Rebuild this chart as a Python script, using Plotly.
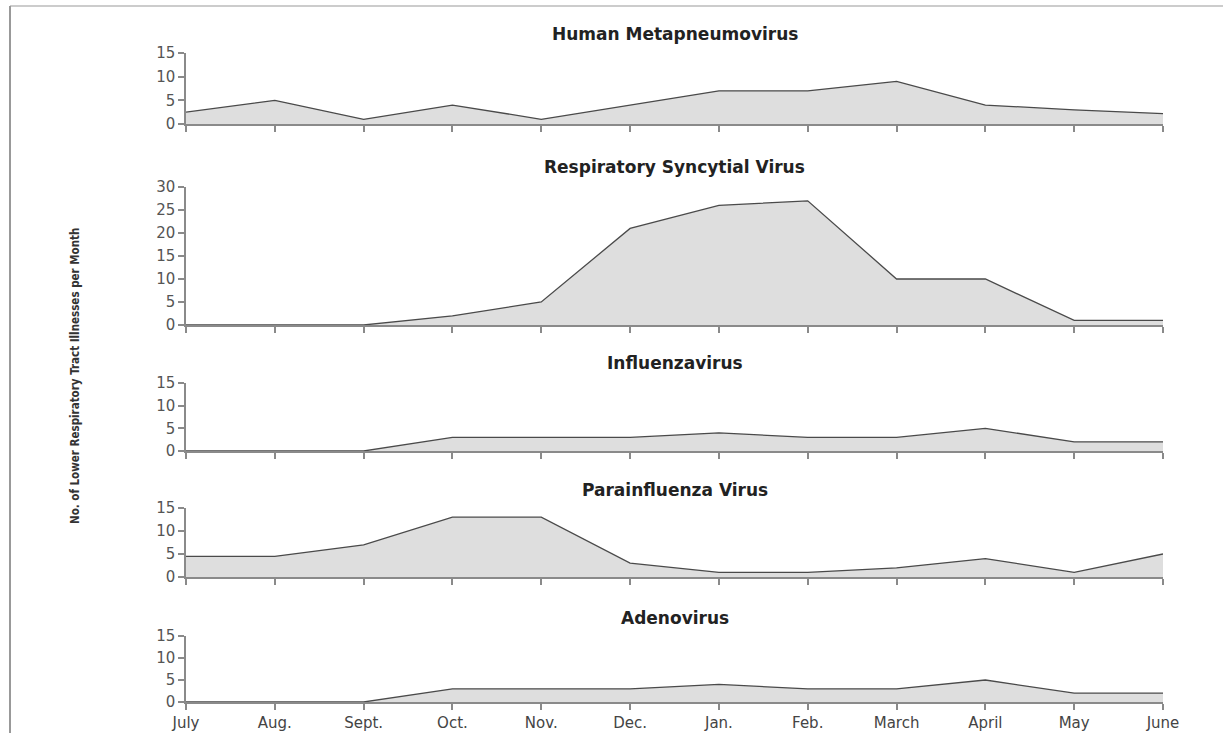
import plotly.graph_objects as go

months = ["July", "Aug.", "Sept.", "Oct.", "Nov.", "Dec.", "Jan.", "Feb.", "March", "April", "May", "June"]

titles = ["Human Metapneumovirus", "Respiratory Syncytial Virus", "Influenzavirus",
          "Parainfluenza Virus", "Adenovirus"]

hmpv = [2.5, 5, 1, 4, 1, 4, 7, 7, 9, 4, 3, 2.2]
rsv = [0, 0, 0, 2, 5, 21, 26, 27, 10, 10, 1, 1]
flu = [0, 0, 0, 3, 3, 3, 4, 3, 3, 5, 2, 2]
para = [4.5, 4.5, 7, 13, 13, 3, 1, 1, 2, 4, 1, 5]
adeno = [0, 0, 0, 3, 3, 3, 4, 3, 3, 5, 2, 2]

series = [hmpv, rsv, flu, para, adeno]
y_max = [15, 30, 15, 15, 15]
y_dtick = [5, 5, 5, 5, 5]

W, H = 1223, 733
x0_px, x1_px = 186, 1163
panels_px = [(53, 124), (187, 325), (383, 451), (508, 577), (636, 702)]
title_y_px = [34, 167, 363, 490, 618]

fig = go.Figure()
layout = dict(
    width=W, height=H,
    margin=dict(l=0, r=0, t=0, b=0, autoexpand=False),
    paper_bgcolor="white", plot_bgcolor="white",
    showlegend=False,
    font=dict(family="DejaVu Sans", color="#444"),
)

axis_col = "#8a8a8a"
for i, (vals, ttl) in enumerate(zip(series, titles)):
    n = i + 1
    xa = "x" if n == 1 else f"x{n}"
    ya = "y" if n == 1 else f"y{n}"
    fig.add_trace(go.Scatter(
        x=months, y=vals, xaxis=xa, yaxis=ya, mode="lines",
        fill="tozeroy", fillcolor="#dedede",
        line=dict(color="#4a4a4a", width=1.3),
        hoverinfo="skip",
    ))
    top, bot = panels_px[i]
    ydom = [1 - bot / H, 1 - top / H]
    last = (n == len(series))
    layout[("xaxis" if n == 1 else f"xaxis{n}")] = dict(
        domain=[x0_px / W, x1_px / W], anchor=ya,
        type="category", range=[0, len(months) - 1],
        showline=True, linecolor=axis_col, linewidth=1.5,
        ticks="outside", ticklen=6, tickcolor=axis_col, tickwidth=1.5,
        showticklabels=last, showgrid=False, zeroline=False,
        tickfont=dict(family="DejaVu Sans", size=15, color="#444"),
    )
    layout[("yaxis" if n == 1 else f"yaxis{n}")] = dict(
        domain=ydom, anchor=xa, range=[0, y_max[i]],
        tickmode="linear", tick0=0, dtick=y_dtick[i],
        showline=True, linecolor=axis_col, linewidth=1.5,
        ticks="outside", ticklen=6, tickcolor=axis_col, tickwidth=1.5,
        showgrid=False, zeroline=False,
        tickfont=dict(family="DejaVu Sans", size=15, color="#555"),
    )

annotations = []
for i, ttl in enumerate(titles):
    annotations.append(dict(
        text=f"<b>{ttl}</b>", x=(x0_px + x1_px) / 2 / W, y=1 - title_y_px[i] / H,
        xref="paper", yref="paper", xanchor="center", yanchor="middle",
        showarrow=False, font=dict(family="DejaVu Sans", size=17, color="#222"),
    ))
annotations.append(dict(
    text="<b>No. of Lower Respiratory Tract Illnesses per Month</b>",
    x=75 / W, y=1 - 376 / H, xref="paper", yref="paper",
    xanchor="center", yanchor="middle", textangle=-90, showarrow=False,
    font=dict(family="DejaVu Sans Condensed, Liberation Sans Narrow, Liberation Sans, sans-serif",
              size=11.5, color="#333"),
))
layout["annotations"] = annotations

layout["shapes"] = [
    dict(type="line", xref="paper", yref="paper", x0=10 / W, x1=1, y0=1 - 6 / H, y1=1 - 6 / H,
         line=dict(color="#cccccc", width=2)),
    dict(type="line", xref="paper", yref="paper", x0=10 / W, x1=10 / W, y0=0, y1=1 - 6 / H,
         line=dict(color="#999999", width=2)),
]

fig.update_layout(**layout)
fig.write_html("out.html", config={"displayModeBar": False},
               post_script="document.body.style.margin='0';document.body.style.overflow='hidden';")
